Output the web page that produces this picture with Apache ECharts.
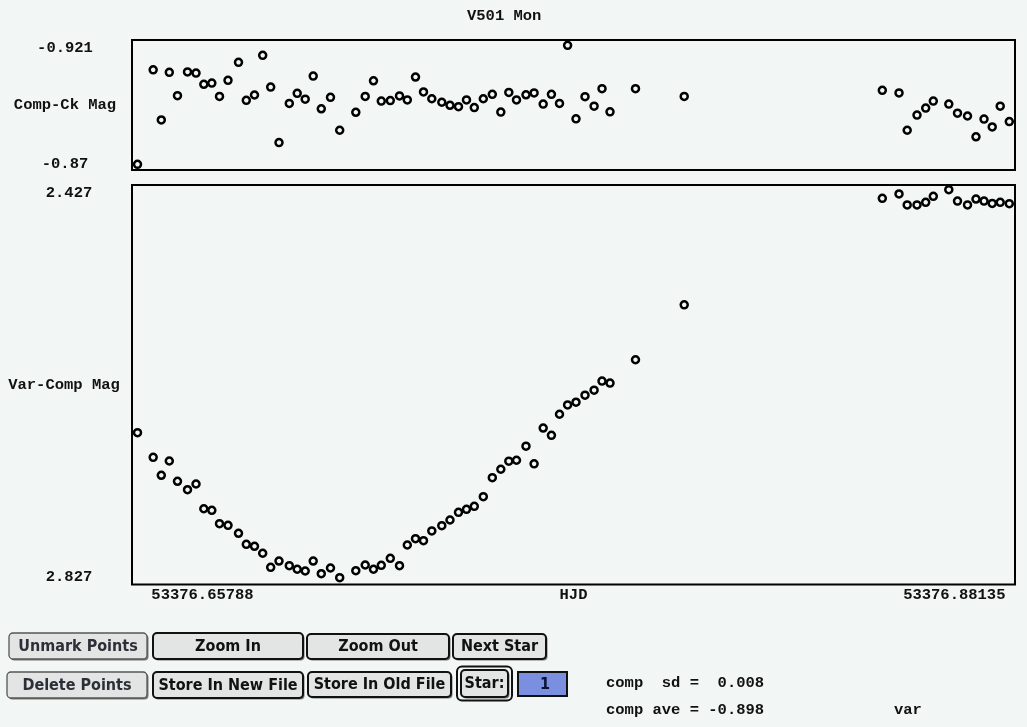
<!DOCTYPE html>
<html>
<head>
<meta charset="utf-8">
<script src="https://cdn.jsdelivr.net/npm/echarts@6/dist/echarts.min.js"></script>
<style>
  html, body { margin: 0; padding: 0; background: #f2f6f5; }
  #chart { width: 1027px; height: 727px; }
</style>
</head>
<body>
<div id="chart"></div>
<script>
// ---------------- data ----------------
const hjd = [
  53376.65788, 53376.66190, 53376.66398, 53376.66603, 53376.66813, 53376.67070, 53376.67288, 53376.67488,
  53376.67693, 53376.67890, 53376.68108, 53376.68377, 53376.68577, 53376.68787, 53376.68997, 53376.69202,
  53376.69415, 53376.69679, 53376.69882, 53376.70087, 53376.70292, 53376.70499, 53376.70735, 53376.70971,
  53376.71384, 53376.71625, 53376.71837, 53376.72037, 53376.72268, 53376.72504, 53376.72704, 53376.72914,
  53376.73119, 53376.73332, 53376.73588, 53376.73798, 53376.74016, 53376.74221, 53376.74421, 53376.74652,
  53376.74883, 53376.75101, 53376.75306, 53376.75503, 53376.75746, 53376.75954, 53376.76187, 53376.76398,
  53376.76605, 53376.76813, 53376.77028, 53376.77259, 53376.77492, 53376.77695, 53376.77900, 53376.78553,
  53376.79802, 53376.84880, 53376.85308, 53376.85518, 53376.85769, 53376.85992, 53376.86187, 53376.86584,
  53376.86807, 53376.87064, 53376.87281, 53376.87487, 53376.87697, 53376.87902, 53376.88135
];
const compCkMag = [
  -0.8700, -0.9105, -0.8890, -0.9094, -0.8994, -0.9096, -0.9091, -0.9043,
  -0.9048, -0.8991, -0.9060, -0.9137, -0.8974, -0.8997, -0.9167, -0.9031,
  -0.8793, -0.8961, -0.9004, -0.8979, -0.9078, -0.8938, -0.8987, -0.8846,
  -0.8923, -0.8991, -0.9058, -0.8971, -0.8973, -0.8993, -0.8976, -0.9074,
  -0.9010, -0.8981, -0.8966, -0.8953, -0.8947, -0.8976, -0.8943, -0.8981,
  -0.9000, -0.8924, -0.9008, -0.8976, -0.8998, -0.9006, -0.8958, -0.9000,
  -0.8961, -0.9210, -0.8895, -0.8990, -0.8949, -0.9024, -0.8925, -0.9024,
  -0.8991, -0.9017, -0.9006, -0.8846, -0.8911, -0.8941, -0.8971, -0.8958,
  -0.8919, -0.8907, -0.8818, -0.8894, -0.8860, -0.8949, -0.8883
];
const varCompMag = [
  2.6775, 2.7029, 2.7214, 2.7067, 2.7276, 2.7363, 2.7304, 2.7559,
  2.7575, 2.7713, 2.7730, 2.7812, 2.7926, 2.7946, 2.8018, 2.8163,
  2.8098, 2.8146, 2.8183, 2.8201, 2.8098, 2.8229, 2.8170, 2.8270,
  2.8198, 2.8139, 2.8183, 2.8142, 2.8070, 2.8146, 2.7933, 2.7868,
  2.7888, 2.7788, 2.7734, 2.7675, 2.7596, 2.7565, 2.7534, 2.7435,
  2.7239, 2.7152, 2.7069, 2.7059, 2.6914, 2.7096, 2.6727, 2.6802,
  2.6585, 2.6489, 2.6461, 2.6388, 2.6337, 2.6243, 2.6264, 2.6023,
  2.5457, 2.4359, 2.4314, 2.4427, 2.4427, 2.4400, 2.4338, 2.4270,
  2.4387, 2.4427, 2.4366, 2.4387, 2.4411, 2.4400, 2.4414
];
const xTickValues = [53376.65788, 53376.88135];
const compTickValues = [-0.921, -0.87];
const varTickValues = [2.427, 2.827];
const titleText = 'V501 Mon';
const buttonLabels = ['Unmark Points', 'Zoom In', 'Zoom Out', 'Next Star',
                      'Delete Points', 'Store In New File', 'Store In Old File', 'Star:'];
const starNumber = '1';
const statLines = ['comp  sd =  0.008', 'comp ave = -0.898'];
const varLabel = 'var';

// ---------------- styles ----------------
const BG = '#f2f6f5';
const MONO = '"Liberation Mono", "DejaVu Sans Mono", monospace';
const BTNFONT = '"DejaVu Sans Condensed", "DejaVu Sans", sans-serif';
const monoStyle = { fontFamily: MONO, fontWeight: 'bold', fontSize: 15.5, color: '#111' };

const xMin = 53376.65647, xMax = 53376.88281;

function pts(ys) { return hjd.map((x, i) => [x, ys[i]]); }

const symbolStyle = { color: BG, borderColor: '#000', borderWidth: 2.5, opacity: 1 };

// buttons geometry (layout only)
const btnBoxes = [
  { x: 9,   y: 633, w: 138, h: 26, thin: true },
  { x: 153, y: 633, w: 150, h: 26 },
  { x: 307, y: 634, w: 142, h: 25 },
  { x: 453, y: 634, w: 93,  h: 25 },
  { x: 7,   y: 672, w: 140, h: 26, thin: true },
  { x: 153, y: 672, w: 150, h: 26 },
  { x: 308, y: 672, w: 143, h: 25 },
  { x: 461, y: 670, w: 47,  h: 27, ring: true }
];

const graphics = [];
btnBoxes.forEach((b, i) => {
  if (b.ring) {
    graphics.push({ type: 'rect', shape: { x: 457, y: 666.5, width: 55, height: 34, r: 5 },
      style: { fill: 'none', stroke: '#111', lineWidth: 2 } });
  }
  graphics.push({ type: 'rect', shape: { x: b.x + 1.5, y: b.y + 1.5, width: b.w, height: b.h, r: 4 },
    style: { fill: '#777', stroke: 'none' } });
  graphics.push({ type: 'rect', shape: { x: b.x, y: b.y, width: b.w, height: b.h, r: 4 },
    style: { fill: '#e3e5e4', stroke: b.thin ? '#555' : '#111', lineWidth: b.thin ? 1.3 : 2 } });
  graphics.push({ type: 'text', x: b.x + b.w / 2, y: b.y + b.h / 2 + 0.5,
    style: { text: buttonLabels[i], fontFamily: BTNFONT, fontWeight: 'bold', fontSize: 16,
      fill: b.thin ? '#2b3038' : '#111', align: 'center', verticalAlign: 'middle' } });
});
graphics.push({ type: 'rect', shape: { x: 518, y: 672, width: 49, height: 24 },
  style: { fill: '#7b8fe0', stroke: '#111', lineWidth: 2 } });
graphics.push({ type: 'text', x: 545, y: 684.5,
  style: { text: starNumber, fontFamily: BTNFONT, fontWeight: 'bold', fontSize: 16,
    fill: '#0b1233', align: 'center', verticalAlign: 'middle' } });
statLines.forEach((t, i) => {
  graphics.push({ type: 'text', x: 606, y: 683 + i * 27,
    style: { text: t, font: 'bold 15.5px ' + MONO, fill: '#111', align: 'left', verticalAlign: 'middle' } });
});
graphics.push({ type: 'text', x: 894, y: 710,
  style: { text: varLabel, font: 'bold 15.5px ' + MONO, fill: '#111', align: 'left', verticalAlign: 'middle' } });

const chart = echarts.init(document.getElementById('chart'), null, { renderer: 'canvas' });
chart.setOption({
  backgroundColor: BG,
  animation: false,
  title: { text: titleText, left: 462, top: 3, textStyle: monoStyle },
  grid: [
    { left: 132, top: 40, width: 883, height: 130, show: true, borderColor: '#000', borderWidth: 2,
      backgroundColor: 'transparent', containLabel: false, outerBoundsMode: 'none' },
    { left: 132, top: 185, width: 883, height: 399.5, show: true, borderColor: '#000', borderWidth: 2,
      backgroundColor: 'transparent', containLabel: false, outerBoundsMode: 'none' }
  ],
  xAxis: [
    { gridIndex: 0, type: 'value', min: xMin, max: xMax, show: false },
    { gridIndex: 1, type: 'value', min: xMin, max: xMax,
      axisLine: { show: false }, axisTick: { show: false }, splitLine: { show: false },
      axisLabel: {
        customValues: xTickValues, margin: 3,
        formatter: function (v) {
          const mid = (xTickValues[0] + xTickValues[1]) / 2;
          return v < mid ? '{l|' + v.toFixed(5) + '}' : '{r|' + v.toFixed(5) + '}';
        },
        rich: {
          l: Object.assign({ padding: [0, 0, 0, 130] }, monoStyle),
          r: Object.assign({ padding: [0, 110, 0, 0] }, monoStyle)
        }
      },
      name: 'HJD', nameLocation: 'middle', nameGap: 3, nameMoveOverlap: false,
      nameTextStyle: Object.assign({ align: 'center', verticalAlign: 'top' }, monoStyle)
    }
  ],
  yAxis: [
    { gridIndex: 0, type: 'value', inverse: true, min: -0.92327, max: -0.86756,
      axisLine: { show: false }, axisTick: { show: false }, splitLine: { show: false },
      axisLabel: Object.assign({ customValues: compTickValues, margin: 67, align: 'center',
        formatter: v => v === compTickValues[0] ? '{d|' + v + '}' : '{u|' + v + '}',
        rich: { d: Object.assign({ padding: [6, 0, 0, 0] }, monoStyle),
                u: Object.assign({ padding: [0, 0, 1, 0] }, monoStyle) }
      }, monoStyle),
      name: 'Comp-Ck Mag', nameLocation: 'middle', nameRotate: 0, nameGap: 67, nameMoveOverlap: false,
      nameTextStyle: Object.assign({ align: 'center', verticalAlign: 'middle' }, monoStyle)
    },
    { gridIndex: 1, type: 'value', inverse: true, min: 2.42215, max: 2.83401,
      axisLine: { show: false }, axisTick: { show: false }, splitLine: { show: false },
      axisLabel: Object.assign({ customValues: varTickValues, margin: 63, align: 'center',
        formatter: v => v === varTickValues[0] ? '{d|' + v.toFixed(3) + '}' : '{u|' + v.toFixed(3) + '}',
        rich: { d: Object.assign({ padding: [7, 0, 0, 0] }, monoStyle),
                u: Object.assign({ padding: [0, 0, 2, 0] }, monoStyle) }
      }, monoStyle),
      name: 'Var-Comp Mag', nameLocation: 'middle', nameRotate: 0, nameGap: 68, nameMoveOverlap: false,
      nameTextStyle: Object.assign({ align: 'center', verticalAlign: 'middle' }, monoStyle)
    }
  ],
  series: [
    { type: 'scatter', xAxisIndex: 0, yAxisIndex: 0, data: pts(compCkMag),
      symbol: 'circle', symbolSize: 7, itemStyle: symbolStyle, silent: true },
    { type: 'scatter', xAxisIndex: 1, yAxisIndex: 1, data: pts(varCompMag),
      symbol: 'circle', symbolSize: 7, itemStyle: symbolStyle, silent: true }
  ],
  graphic: graphics
});
</script>
</body>
</html>
